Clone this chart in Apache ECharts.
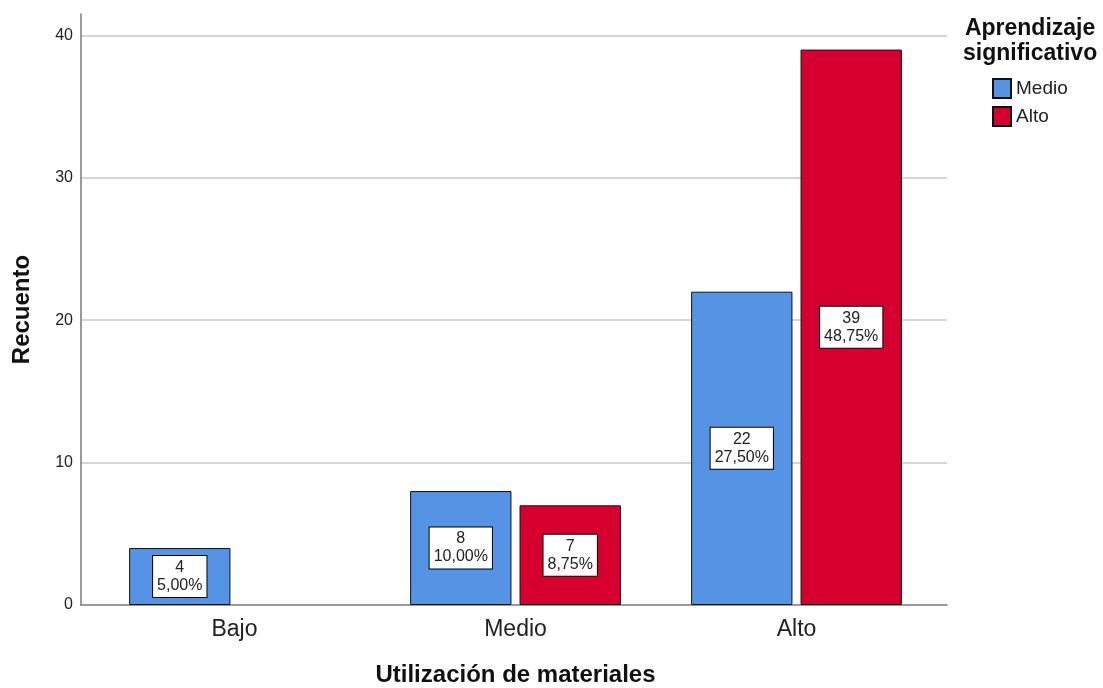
<!DOCTYPE html>
<html>
<head>
<meta charset="utf-8">
<script src="https://cdn.jsdelivr.net/npm/echarts@6/dist/echarts.min.js"></script>
<style>html,body{margin:0;padding:0;background:#fff}#c{width:1103px;height:688px}</style>
</head>
<body>
<div id="c"></div>
<script>
const categories = ['Bajo', 'Medio', 'Alto'];
const medioValues = [4, 8, 22];
const altoValues = ['-', 7, 39];
const medioPct = ['5,00%', '10,00%', '27,50%'];
const altoPct = ['', '8,75%', '48,75%'];
const yTicks = [0, 10, 20, 30, 40];

const FONT = 'Liberation Sans, Arial, sans-serif';
const chart = echarts.init(document.getElementById('c'));

function lbl(pcts) {
  return {
    show: true,
    position: 'inside',
    formatter: p => p.value + '\n' + pcts[p.dataIndex],
    backgroundColor: '#fff',
    borderColor: '#000',
    borderWidth: 1,
    padding: [3, 4, 2, 4],
    color: '#222',
    fontFamily: FONT,
    fontSize: 16,
    lineHeight: 18,
    align: 'center'
  };
}

chart.setOption({
  animation: false,
  grid: [
    {left: 81, right: 156, top: 14, bottom: 83, outerBoundsMode: 'none', containLabel: false},
    {left: 94, right: 166, top: 14, bottom: 83, outerBoundsMode: 'none', containLabel: false}
  ],
  graphic: [{
    type: 'text', left: 963, top: 16,
    style: {text: 'Aprendizaje\nsignificativo', font: 'bold 23px ' + FONT, fill: '#111', lineHeight: 25, textAlign: 'center'}
  }],
  legend: {
    orient: 'vertical', left: 992, top: 78, padding: 0,
    itemWidth: 18, itemHeight: 19, itemGap: 7,
    icon: 'rect',
    textStyle: {fontFamily: FONT, fontSize: 19, color: '#222'},
    data: ['Medio', 'Alto']
  },
  xAxis: [
    {type: 'value', gridIndex: 0, min: 0, max: 1, show: true,
     axisLine: {show: true, onZero: false, lineStyle: {color: '#7a7a7a', width: 1.5}},
     axisTick: {show: false}, axisLabel: {show: false}, splitLine: {show: false}},
    {type: 'category', gridIndex: 1, data: categories,
     axisLine: {show: false}, axisTick: {show: false},
     axisLabel: {fontFamily: FONT, fontSize: 23, color: '#222', margin: 13},
     name: 'Utilización de materiales', nameLocation: 'middle', nameGap: 58,
     nameTextStyle: {fontFamily: FONT, fontSize: 24, fontWeight: 'bold', color: '#111'}}
  ],
  yAxis: [
    {type: 'value', gridIndex: 0, min: 0, max: 41.5, interval: 10,
     axisLine: {show: true, lineStyle: {color: '#7a7a7a', width: 1.5}},
     axisTick: {show: false},
     axisLabel: {fontFamily: FONT, fontSize: 16, color: '#222', margin: 8, showMaxLabel: false,
       formatter: v => yTicks.includes(v) ? String(v) : ''},
     splitLine: {show: true, showMinLine: false, showMaxLine: false, lineStyle: {color: '#c8c8c8', width: 1.5}},
     name: 'Recuento', nameLocation: 'middle', nameGap: 47, nameRotate: 90,
     nameTextStyle: {fontFamily: FONT, fontSize: 24, fontWeight: 'bold', color: '#111'}},
    {type: 'value', gridIndex: 1, min: 0, max: 41.5, show: false}
  ],
  series: [
    {name: 'Medio', type: 'bar', xAxisIndex: 1, yAxisIndex: 1, data: medioValues,
     barGap: '8%', barCategoryGap: '25%',
     itemStyle: {color: '#5593E4', borderColor: '#111', borderWidth: 1},
     label: lbl(medioPct)},
    {name: 'Alto', type: 'bar', xAxisIndex: 1, yAxisIndex: 1, data: altoValues,
     itemStyle: {color: '#D6002F', borderColor: '#111', borderWidth: 1},
     label: lbl(altoPct)}
  ]
});
</script>
</body>
</html>
